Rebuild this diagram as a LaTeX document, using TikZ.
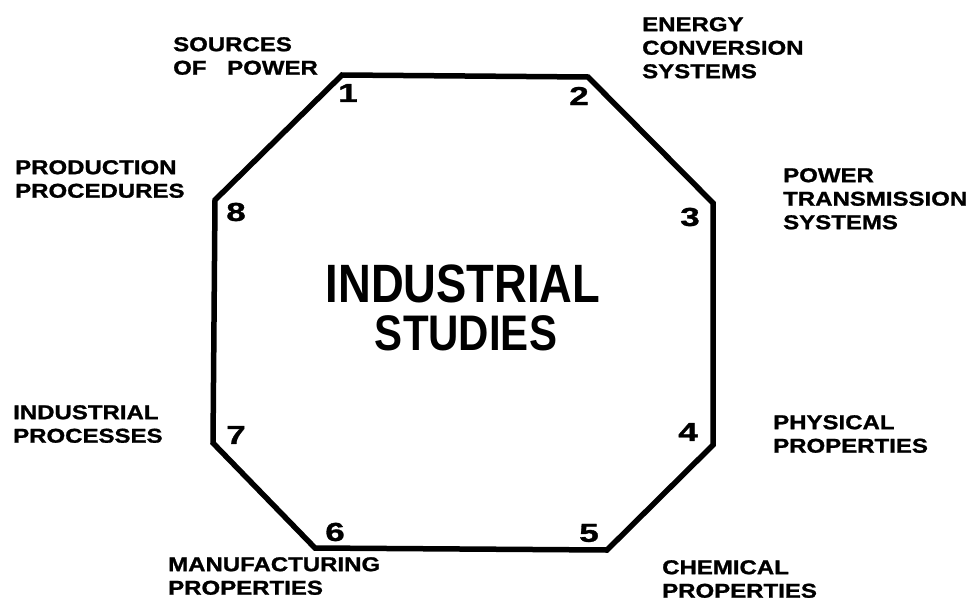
\documentclass[tikz,border=0pt]{standalone}
\usepackage{fontspec}
\setmainfont{Liberation Sans}
\newfontfamily\labelfont[FakeStretch=1.2,FakeBold=1.2]{Liberation Sans}
\newfontfamily\numfont[FakeStretch=1.35,FakeBold=1.2]{Liberation Sans}
\newfontfamily\titlefont[FakeStretch=0.84]{Liberation Sans}
\tikzset{
  topic/.style={anchor=north west, align=left, inner sep=0pt,
    font=\labelfont\bfseries\fontsize{20}{23.5}\selectfont},
  corner/.style={inner sep=0pt, font=\numfont\bfseries\fontsize{26}{26}\selectfont},
  heading/.style={anchor=base, inner sep=0pt, font=\titlefont\bfseries\fontsize{54}{54}\selectfont}
}
\begin{document}
\begin{tikzpicture}[x=1pt,y=-1pt]
\useasboundingbox (0,0) rectangle (973,602);

  \coordinate (v1) at (342,75);
  \coordinate (v2) at (588,77);
  \coordinate (v3) at (713,203);
  \coordinate (v4) at (713,445);
  \coordinate (v5) at (607,550);
  \coordinate (v6) at (315,548);
  \coordinate (v7) at (213,443);
  \coordinate (v8) at (215,200);
  \draw[line width=5.5pt] (v1) -- (v2) -- (v3) -- (v4) -- (v5) -- (v6) -- (v7) -- (v8) -- cycle;

  \node[corner] (n1) at (348,93) {1};
  \node[corner] (n2) at (579,96) {2};
  \node[corner] (n3) at (690,217) {3};
  \node[corner] (n4) at (688,432) {4};
  \node[corner] (n5) at (589,533) {5};
  \node[corner] (n6) at (335,532) {6};
  \node[corner] (n7) at (236,435) {7};
  \node[corner] (n8) at (236,212) {8};

  \node[heading] (industrial) at (463,302) {INDUSTRIAL};
  \node[heading, font=\titlefont\bfseries\fontsize{50}{50}\selectfont] (studies) at (466,350) {STUDIES};

  \node[topic] (sources) at (173,37) {SOURCES\\OF\hspace{14pt} POWER};
  \node[topic] (energy) at (642,17) {ENERGY\\CONVERSION\\SYSTEMS};
  \node[topic] (transmission) at (783,168) {POWER\\TRANSMISSION\\SYSTEMS};
  \node[topic] (physical) at (773,415) {PHYSICAL\\PROPERTIES};
  \node[topic] (chemical) at (662,560) {CHEMICAL\\PROPERTIES};
  \node[topic] (manufacturing) at (168,557) {MANUFACTURING\\PROPERTIES};
  \node[topic] (processes) at (13,405) {INDUSTRIAL\\PROCESSES};
  \node[topic] (production) at (15,160) {PRODUCTION\\PROCEDURES};
\end{tikzpicture}
\end{document}
